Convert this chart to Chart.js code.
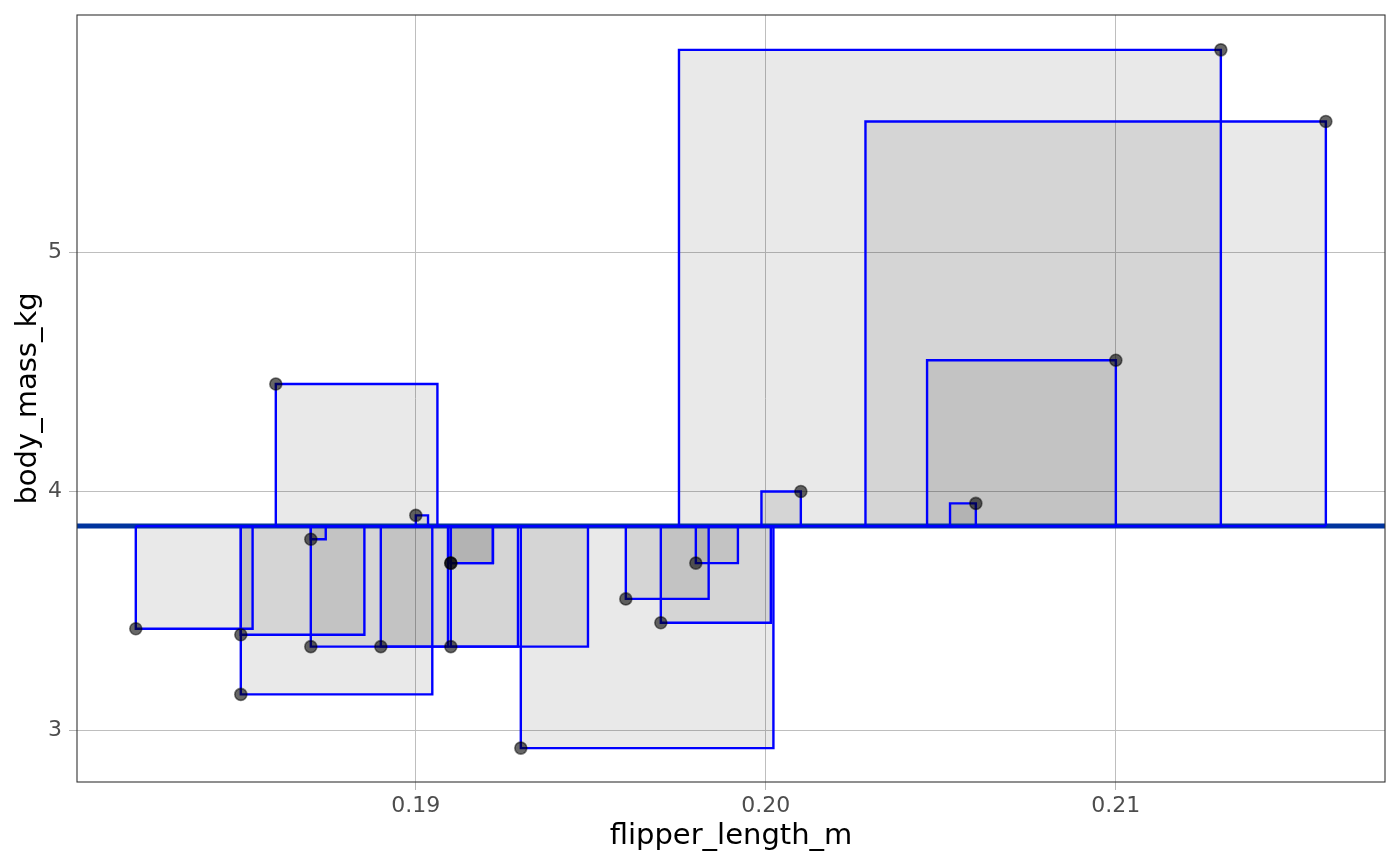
<!DOCTYPE html>
<html>
<head>
<meta charset="utf-8">
<script src="https://cdn.jsdelivr.net/npm/chart.js@4.4.1/dist/chart.umd.min.js"></script>
<style>
  html, body { margin: 0; padding: 0; background: #fff; }
  canvas { display: block; }
</style>
</head>
<body>
<canvas id="chart" width="1400" height="866"></canvas>
<script>
(() => {
  "use strict";

// data
const flipperLengthM = [0.182, 0.185, 0.185, 0.186, 0.187, 0.187, 0.189, 0.190, 0.191, 0.191,
                        0.191, 0.193, 0.196, 0.197, 0.198, 0.201, 0.206, 0.210, 0.213, 0.216];
const bodyMassKg     = [3.425, 3.400, 3.150, 4.450, 3.800, 3.350, 3.350, 3.900, 3.700, 3.700,
                        3.350, 2.925, 3.550, 3.450, 3.700, 4.000, 3.950, 4.550, 5.850, 5.550];
const meanMassKg = 3.855;        // horizontal line (mean body mass)
const sideScale = 0.00776;       // x-units per kg of residual (square width)
const xTicks = [0.19, 0.20, 0.21];
const yTicks = [3, 4, 5];
const xRange = [0.18032, 0.21769];
const yRange = [2.783, 5.996];

const FONT = "'DejaVu Sans', sans-serif";

// one residual square per point, drawn towards the middle of the x range
const xMid = (Math.min(...flipperLengthM) + Math.max(...flipperLengthM)) / 2;
const squareSets = flipperLengthM.map((x, i) => {
  const y = bodyMassKg[i];
  const w = Math.abs(y - meanMassKg) * sideScale;
  const x2 = x < xMid ? x + w : x - w;
  return {
    data: [
      { x: x, y: meanMassKg }, { x: x, y: y }, { x: x2, y: y },
      { x: x2, y: meanMassKg }, { x: x, y: meanMassKg }
    ],
    showLine: true,
    fill: "shape",
    backgroundColor: "rgba(0,0,0,0.088)",
    borderColor: "#0000FF",
    borderWidth: 2.4,
    pointRadius: 0,
    order: 1
  };
});

const pointSet = {
  data: flipperLengthM.map((x, i) => ({ x, y: bodyMassKg[i] })),
  backgroundColor: "rgba(0,0,0,0.6)",
  borderColor: "rgba(0,0,0,0.5)",
  borderWidth: 1.6,
  pointRadius: 6,
  order: 0
};

const meanSet = {
  data: [{ x: xRange[0], y: meanMassKg }, { x: xRange[1], y: meanMassKg }],
  showLine: true,
  fill: false,
  borderColor: "#00349E",
  borderWidth: 5,
  pointRadius: 0,
  order: 2
};

// panel border all round
const panelBorder = {
  id: "panelBorder",
  afterDatasetsDraw(chart) {
    const a = chart.chartArea;
    const ctx = chart.ctx;
    ctx.save();
    ctx.strokeStyle = "#333333";
    ctx.lineWidth = 1.1;
    ctx.strokeRect(a.left, a.top, a.right - a.left, a.bottom - a.top);
    ctx.restore();
  }
};

new Chart(document.getElementById("chart"), {
  type: "scatter",
  data: { datasets: [pointSet, ...squareSets, meanSet] },
  plugins: [panelBorder],
  options: {
    responsive: false,
    animation: false,
    layout: { padding: { top: 15, right: 15, left: 0, bottom: 0 } },
    plugins: {
      legend: { display: false },
      tooltip: { enabled: false },
      filler: { drawTime: "beforeDatasetsDraw" }
    },
    scales: {
      x: {
        type: "linear",
        min: xRange[0],
        max: xRange[1],
        afterBuildTicks: (s) => { s.ticks = xTicks.map(v => ({ value: v })); },
        afterFit: (s) => { s.height = 84; s.paddingLeft = 0; s.paddingRight = 0; },
        ticks: {
          callback: (v) => Number(v).toFixed(2),
          color: "#4D4D4D",
          font: { family: FONT, size: 22 },
          padding: 3,
          maxRotation: 0
        },
        grid: { color: "#BEBEBE", lineWidth: 1, tickLength: 8, tickColor: "#B5B5B5" },
        border: { display: false },
        title: {
          display: true,
          text: "flipper_length_m",
          color: "#000",
          font: { family: FONT, size: 29 },
          padding: { top: 0, bottom: 12 }
        }
      },
      y: {
        type: "linear",
        min: yRange[0],
        max: yRange[1],
        afterBuildTicks: (s) => { s.ticks = yTicks.map(v => ({ value: v })); },
        afterFit: (s) => { s.width = 77; s.paddingTop = 0; s.paddingBottom = 0; },
        ticks: {
          callback: (v) => String(v),
          color: "#4D4D4D",
          font: { family: FONT, size: 22 },
          padding: 7
        },
        grid: { color: "#BEBEBE", lineWidth: 1, tickLength: 8, tickColor: "#B5B5B5" },
        border: { display: false },
        title: {
          display: true,
          text: "body_mass_kg",
          color: "#000",
          font: { family: FONT, size: 29 },
          padding: { top: 11, bottom: 0 }
        }
      }
    }
  }
});
})();
</script>
</body>
</html>
